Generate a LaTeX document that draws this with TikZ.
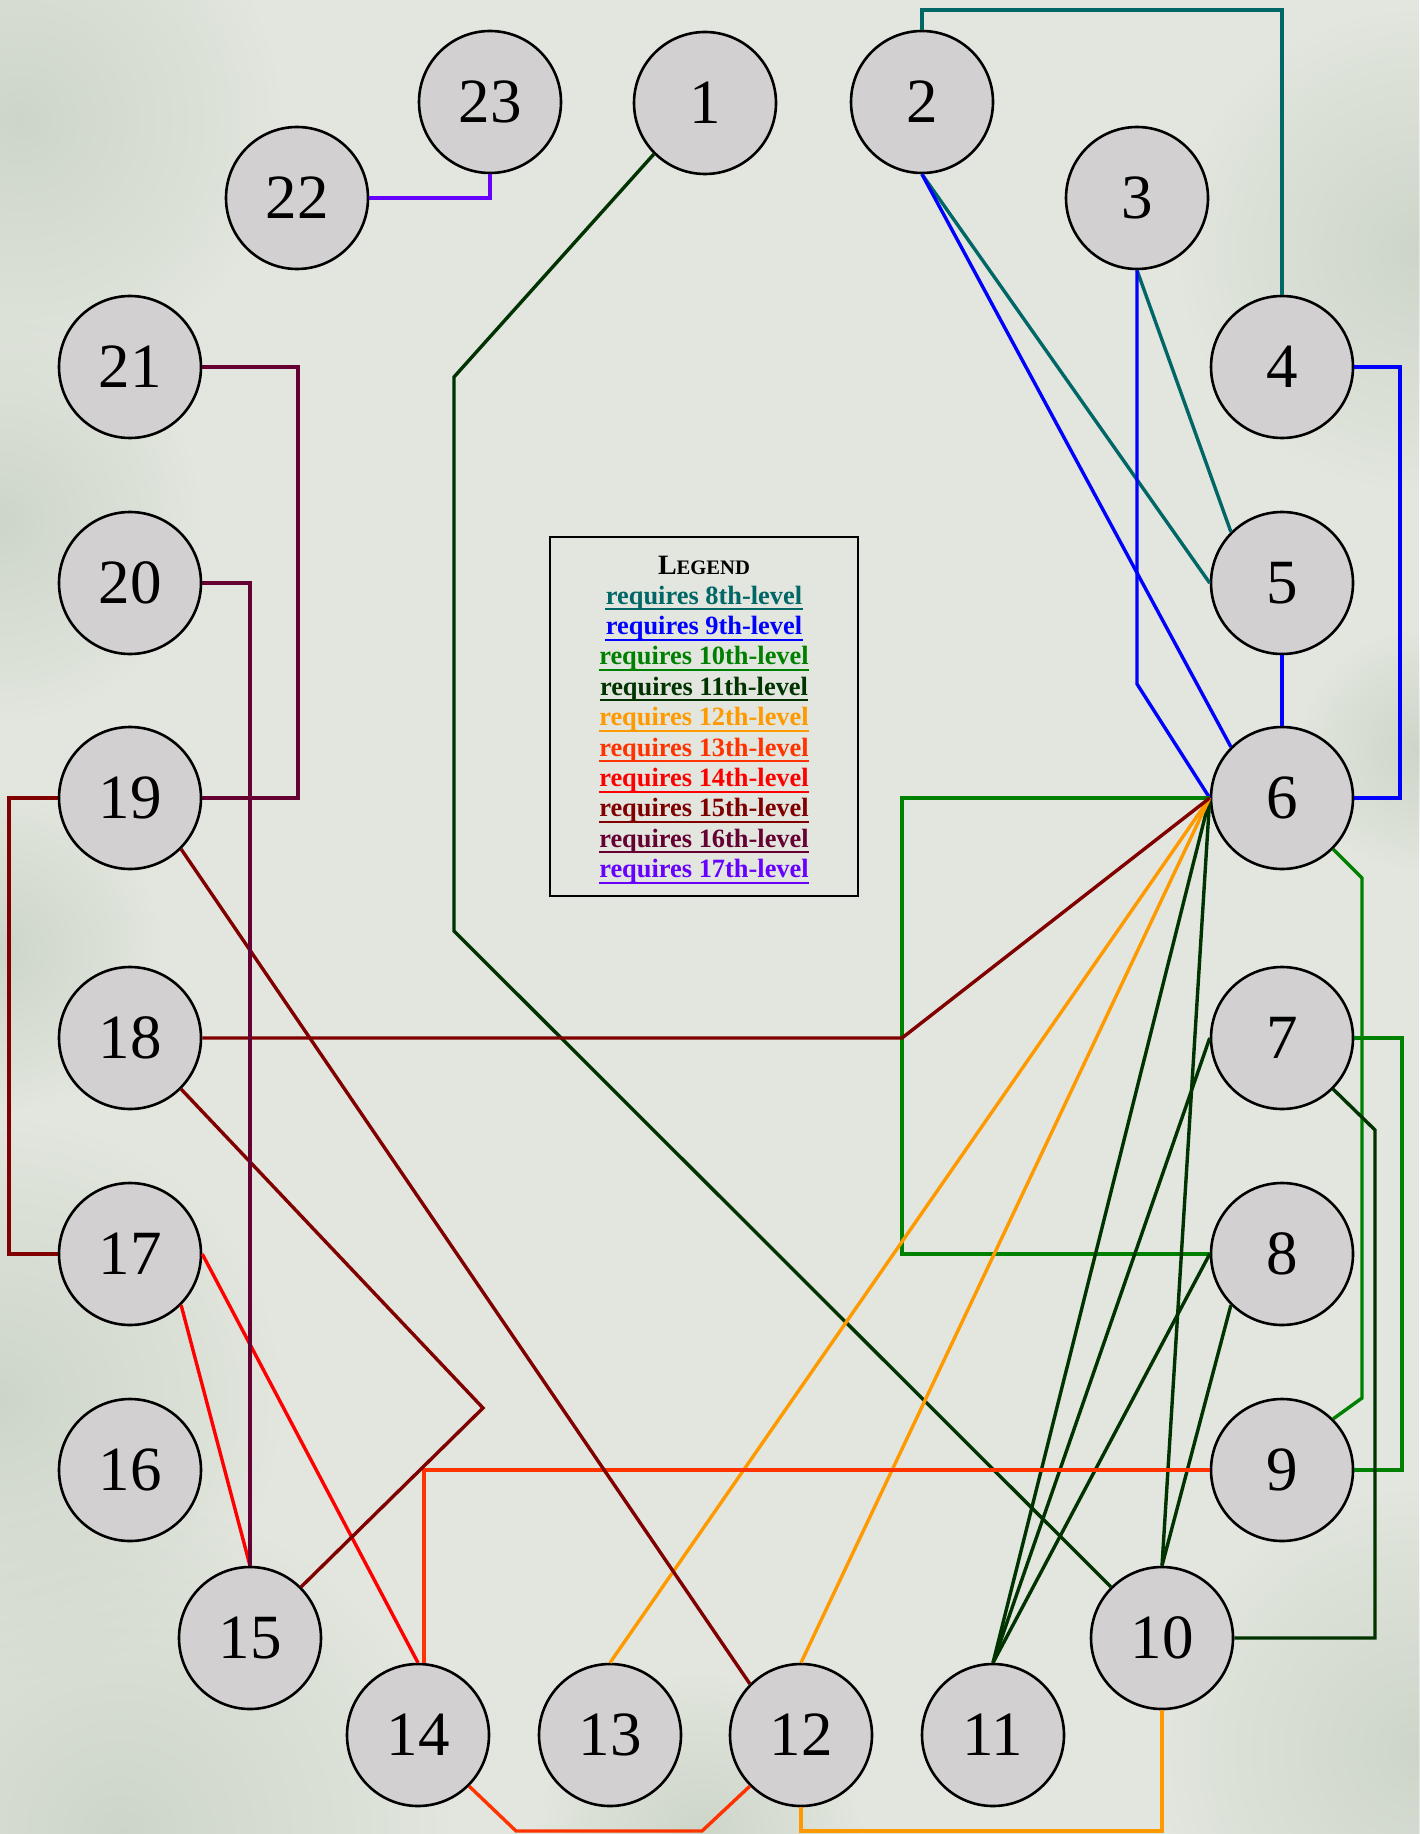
\documentclass[tikz,border=0pt]{standalone}
\usepackage{fontspec}
\setmainfont{Liberation Serif}
\usetikzlibrary{fadings}
\tikzfading[name=blotfade, inner color=transparent!0, outer color=transparent!100]
\definecolor{paper}{RGB}{226,230,222}
\definecolor{paperdark}{RGB}{172,186,166}
\definecolor{nodefill}{RGB}{210,208,209}
\definecolor{c8}{RGB}{0,102,102}
\definecolor{c9}{RGB}{0,0,255}
\definecolor{c10}{RGB}{0,128,0}
\definecolor{c11}{RGB}{0,51,0}
\definecolor{c12}{RGB}{255,153,0}
\definecolor{c13}{RGB}{255,51,0}
\definecolor{c14}{RGB}{255,0,0}
\definecolor{c15}{RGB}{128,0,0}
\definecolor{c16}{RGB}{102,0,51}
\definecolor{c17}{RGB}{102,0,255}
\tikzset{
  spell/.style={circle, draw=black, line width=1.3pt, fill=nodefill, minimum size=71pt, inner sep=0pt,
    font=\fontsize{31.5}{31.5}\selectfont},
  link/.style={line width=1.7pt, line join=miter},
  legtxt/.style={inner sep=0pt, anchor=base, font=\bfseries\fontsize{13.2}{13.2}\selectfont},
  uline/.style={line width=1pt},
  blot/.style={fill=paperdark, path fading=blotfade, opacity=0.38}
}
\begin{document}
\begin{tikzpicture}[x=0.5pt,y=-0.5pt]
\useasboundingbox (0,0) rectangle (1419,1834);
% paper background
\fill[paper] (0,0) rectangle (1419,1834);
\fill[blot] (20,120) circle (260);
\fill[blot] (0,520) circle (200);
\fill[blot] (0,950) circle (160);
\fill[blot] (0,1400) circle (280);
\fill[blot] (120,1834) circle (330);
\fill[blot] (1419,250) circle (240);
\fill[blot] (1419,750) circle (120);
\fill[blot] (1419,1750) circle (260);
\fill[blot] (700,1834) circle (160);

% nodes
\node[spell] (n1)  at (705,103)  {1};
\node[spell] (n2)  at (922,102)  {2};
\node[spell] (n3)  at (1137,198) {3};
\node[spell] (n4)  at (1282,367) {4};
\node[spell] (n5)  at (1282,583) {5};
\node[spell] (n6)  at (1282,798) {6};
\node[spell] (n7)  at (1282,1038) {7};
\node[spell] (n8)  at (1282,1254) {8};
\node[spell] (n9)  at (1282,1470) {9};
\node[spell] (n10) at (1162,1638) {10};
\node[spell] (n11) at (993,1735) {11};
\node[spell] (n12) at (801,1735) {12};
\node[spell] (n13) at (610,1735) {13};
\node[spell] (n14) at (418,1735) {14};
\node[spell] (n15) at (250,1638) {15};
\node[spell] (n16) at (130,1470) {16};
\node[spell] (n17) at (130,1254) {17};
\node[spell] (n18) at (130,1038) {18};
\node[spell] (n19) at (130,798) {19};
\node[spell] (n20) at (130,583) {20};
\node[spell] (n21) at (130,367) {21};
\node[spell] (n22) at (297,198) {22};
\node[spell] (n23) at (490,102) {23};

% routing points
\coordinate (t24) at (1282,10);
\coordinate (b36) at (1137,684);
\coordinate (b46) at (1400,798);
\coordinate (g68) at (902,1254);
\coordinate (g69a) at (1362,878);
\coordinate (g69b) at (1362,1398);
\coordinate (g79) at (1402,1470);
\coordinate (d110a) at (454,377);
\coordinate (d110b) at (454,931);
\coordinate (d710a) at (1375,1130);
\coordinate (o1012) at (1000,1831);
\coordinate (r1412a) at (516,1831);
\coordinate (r1412b) at (702,1831);
\coordinate (k186) at (902,1038);
\coordinate (k1815) at (483,1408);
\coordinate (k1917) at (9,1254);
\coordinate (p2119) at (298,798);

% 8th level
\draw[link, c8] (n2.north) |- (t24) -- (n4.north);
\draw[link, c8] (n2.south) -- (n5.west);
\draw[link, c8] (n3.south) -- (n5.north west);
% 9th level
\draw[link, c9] (n2.south) -- (n6.north west);
\draw[link, c9] (n3.south) -- (b36) -- (n6.west);
\draw[link, c9] (n4.east) -| (b46) -- (n6.east);
\draw[link, c9] (n5.south) -- (n6.north);
% 10th level
\draw[link, c10] (n6.west) -| (g68) -- (n8.west);
\draw[link, c10] (n6.south east) -- (g69a) -- (g69b) -- (n9.north east);
\draw[link, c10] (n7.east) -| (g79) -- (n9.east);
% 11th level
\draw[link, c11] (n1.south west) -- (d110a) -- (d110b) -- (n10.north west);
\draw[link, c11] (n6.west) -- (n11.north);
\draw[link, c11] (n6.west) -- (n10.north);
\draw[link, c11] (n7.west) -- (n11.north);
\draw[link, c11] (n8.west) -- (n11.north);
\draw[link, c11] (n8.south west) -- (n10.north);
\draw[link, c11] (n7.south east) -- (d710a) |- (n10.east);
% 12th level
\draw[link, c12] (n6.west) -- (n13.north);
\draw[link, c12] (n6.west) -- (n12.north);
\draw[link, c12] (n10.south) |- (o1012) -| (n12.south);
% 13th level
\draw[link, c13] (n9.west) -| ([xshift=3pt]n14.north);
\draw[link, c13] (n14.south east) -- (r1412a) -- (r1412b) -- (n12.south west);
% 14th level
\draw[link, c14] (n17.south east) -- (n15.north);
\draw[link, c14] (n17.east) -- (n14.north);
% 15th level
\draw[link, c15] (n18.east) -- (k186) -- (n6.west);
\draw[link, c15] (n18.south east) -- (k1815) -- (n15.north east);
\draw[link, c15] (n19.south east) -- (n12.north west);
\draw[link, c15] (n19.west) -| (k1917) -- (n17.west);
% 16th level
\draw[link, c16] (n21.east) -| (p2119) -- (n19.east);
\draw[link, c16] (n20.east) -| (n15.north);
% 17th level
\draw[link, c17] (n22.east) -| (n23.south);

% legend
\node[draw=black, line width=1pt, inner sep=0pt, minimum width=154pt, minimum height=179.5pt] (leg) at (704,716.5) {};
\node[inner sep=0pt, anchor=base] (legtitle) at (704,574) {\bfseries\fontsize{14}{14}\selectfont L\fontsize{10.3}{10.3}\selectfont EGEND};
\node[legtxt, text=c8]  (l8)  at (704,604)   {requires 8th-level};
\node[legtxt, text=c9]  (l9)  at (704,634.4) {requires 9th-level};
\node[legtxt, text=c10] (l10) at (704,664.8) {requires 10th-level};
\node[legtxt, text=c11] (l11) at (704,695.2) {requires 11th-level};
\node[legtxt, text=c12] (l12) at (704,725.6) {requires 12th-level};
\node[legtxt, text=c13] (l13) at (704,756.0) {requires 13th-level};
\node[legtxt, text=c14] (l14) at (704,786.4) {requires 14th-level};
\node[legtxt, text=c15] (l15) at (704,816.8) {requires 15th-level};
\node[legtxt, text=c16] (l16) at (704,847.2) {requires 16th-level};
\node[legtxt, text=c17] (l17) at (704,877.6) {requires 17th-level};
\foreach \k/\c in {8/c8,9/c9,10/c10,11/c11,12/c12,13/c13,14/c14,15/c15,16/c16,17/c17}{
  \draw[uline, \c] ([yshift=-2.6pt]l\k.base west) -- ([yshift=-2.6pt]l\k.base east);
}
\end{tikzpicture}
\end{document}
